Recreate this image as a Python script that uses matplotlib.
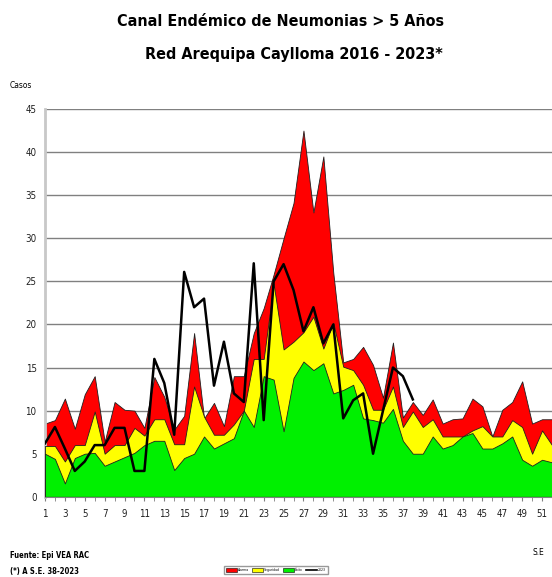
import matplotlib
matplotlib.use("Agg")
import matplotlib.pyplot as plt
from matplotlib.lines import Line2D
from matplotlib.patches import Patch

plt.rcParams['font.family'] = ['DejaVu Sans']
plt.rcParams['font.stretch'] = 'condensed'

# semanas epidemiologicas
semanas = list(range(1, 53))

# zona de alarma (limite superior)
alarma = [8.5, 8.9, 11.4, 7.9, 11.9, 14.0, 6.4, 11.0, 10.1, 10.0, 8.0, 13.9, 11.6,
          7.8, 9.4, 19.0, 9.1, 10.9, 8.2, 14.0, 14.0, 19.0, 21.9, 25.8, 30.0, 34.1,
          42.5, 33.0, 39.5, 26.0, 15.6, 16.0, 17.4, 15.3, 11.5, 17.9, 9.2, 11.0, 9.5,
          11.3, 8.5, 9.0, 9.1, 11.4, 10.5, 7.0, 10.1, 11.0, 13.4, 8.5, 9.0, 9.0]

# zona de seguridad
seguridad = [5.9, 5.9, 4.1, 6.0, 6.0, 9.9, 5.0, 6.0, 6.0, 8.0, 7.1, 9.0, 9.0,
             6.1, 6.1, 12.8, 9.3, 7.2, 7.2, 8.4, 10.0, 16.0, 16.0, 24.7, 17.1, 18.0,
             19.1, 20.9, 17.2, 20.2, 15.1, 14.7, 13.0, 10.1, 10.1, 12.8, 8.1, 9.9, 8.1,
             9.0, 7.0, 7.0, 7.0, 7.7, 8.2, 7.0, 7.0, 8.9, 8.1, 5.0, 7.7, 6.0]

# zona de exito
exito = [5.0, 4.4, 1.55, 4.5, 5.0, 5.1, 3.6, 4.1, 4.6, 5.1, 6.0, 6.5, 6.5,
         3.1, 4.5, 5.0, 7.0, 5.6, 6.2, 6.8, 10.0, 8.1, 14.0, 13.6, 7.6, 13.8,
         15.7, 14.7, 15.5, 12.0, 12.4, 13.0, 9.1, 8.9, 8.6, 10.2, 6.5, 5.0, 5.0,
         7.0, 5.6, 6.0, 7.0, 7.4, 5.6, 5.6, 6.2, 7.0, 4.3, 3.6, 4.3, 4.0]

# casos 2023 hasta la S.E. 38
casos_2023 = [6.2, 8.1, 5.6, 3.0, 4.1, 6.0, 6.0, 8.0, 8.0, 3.0, 3.0, 16.0, 13.2,
              7.2, 26.1, 22.0, 23.0, 12.9, 18.0, 12.0, 11.0, 27.1, 8.9, 25.0, 27.0, 24.0,
              19.2, 22.0, 17.8, 20.0, 9.1, 11.2, 12.0, 5.0, 10.0, 15.0, 14.0, 11.3]

etiquetas_x = [str(s) for s in range(1, 52, 2)]

fig = plt.figure(figsize=(5.52, 5.77), dpi=100)
ax = fig.add_axes([0.0815, 0.139, 0.9185, 0.672])

ax.fill_between(semanas, 0, alarma, facecolor='#FF0000', edgecolor='#202020', linewidth=0.6, zorder=2)
ax.fill_between(semanas, 0, seguridad, facecolor='#FFFF00', edgecolor='#202020', linewidth=0.6, zorder=3)
ax.fill_between(semanas, 0, exito, facecolor='#00F000', edgecolor='#202020', linewidth=0.6, zorder=4)
ax.plot(semanas[:len(casos_2023)], casos_2023, color='black', linewidth=1.8, zorder=5)

ax.set_xlim(1, 51.38)
ax.set_ylim(0, 45)
ax.set_yticks(range(0, 46, 5))
ax.set_xticks(semanas, minor=True)
ax.set_xticks(range(1, 52, 2))
ax.set_xticklabels(etiquetas_x)
ax.yaxis.grid(True, color='#808080', linewidth=1.0, zorder=0)
ax.set_axisbelow(True)

for lado in ['top', 'right']:
    ax.spines[lado].set_visible(False)
ax.spines['left'].set_color('#c8c8c8')
ax.spines['left'].set_linewidth(2)
ax.spines['bottom'].set_color('#808080')
ax.spines['bottom'].set_zorder(6)
ax.tick_params(axis='y', length=0, pad=6, labelsize=7, labelcolor='#202020')
ax.tick_params(axis='x', which='both', length=3, color='#808080', direction='out')
ax.tick_params(axis='x', pad=6, labelsize=7, labelcolor='#202020')

fig.text(0.509, 0.962, 'Canal Endémico de Neumonias > 5 Años', ha='center', va='center',
         fontsize=11.5, fontweight='bold')
fig.text(0.532, 0.905, 'Red Arequipa Caylloma 2016 - 2023*', ha='center', va='center',
         fontsize=11.5, fontweight='bold')
fig.text(0.018, 0.852, 'Casos', ha='left', va='center', fontsize=6)
fig.text(0.975, 0.043, 'S.E', ha='center', va='center', fontsize=6)
fig.text(0.018, 0.038, 'Fuente: Epi VEA RAC', ha='left', va='center', fontsize=5.5, fontweight='bold')
fig.text(0.018, 0.009, '(*) A S.E. 38-2023', ha='left', va='center', fontsize=5.5, fontweight='bold')

manejadores = [Patch(facecolor='#FF0000', edgecolor='black', linewidth=0.4, label='Alarma'),
               Patch(facecolor='#FFFF00', edgecolor='black', linewidth=0.4, label='Seguridad'),
               Patch(facecolor='#00F000', edgecolor='black', linewidth=0.4, label='Éxito'),
               Line2D([0], [0], color='black', linewidth=1.2, label='2023')]
fig.legend(handles=manejadores, loc='upper center', bbox_to_anchor=(0.5, 0.022),
           ncol=4, fontsize=2.5, frameon=True, edgecolor='#808080', fancybox=False,
           handlelength=3, handleheight=1.5, columnspacing=1.0, handletextpad=0.3,
           borderpad=0.6)

fig.savefig('out.png', dpi=100)
